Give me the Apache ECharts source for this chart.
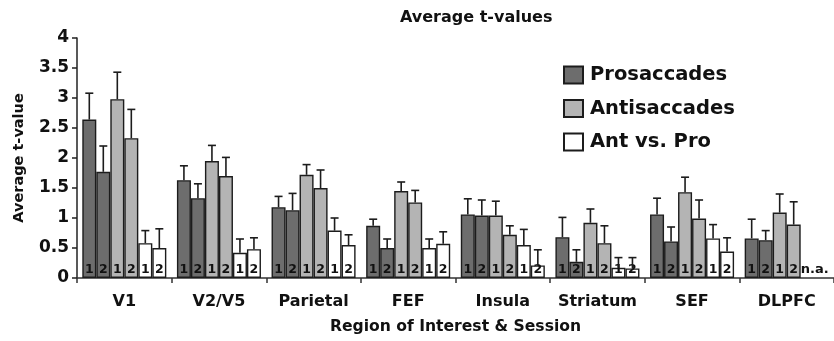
<!DOCTYPE html>
<html>
<head>
<meta charset="utf-8">
<script src="https://cdn.jsdelivr.net/npm/echarts@6/dist/echarts.min.js"></script>
<style>
  html, body { margin: 0; padding: 0; background: #fff; }
  #chart { width: 834px; height: 341px; }
</style>
</head>
<body>
<div id="chart"></div>
<script>
// Regions of interest along the x axis
const regions = ['V1', 'V2/V5', 'Parietal', 'FEF', 'Insula', 'Striatum', 'SEF', 'DLPFC'];

// Mean t-values per session (1, 2); null = not available
const proS1 = [2.64, 1.63, 1.18, 0.87, 1.06, 0.68, 1.06, 0.66];
const proS2 = [1.77, 1.33, 1.13, 0.50, 1.04, 0.27, 0.61, 0.63];
const antiS1 = [2.98, 1.95, 1.72, 1.45, 1.04, 0.92, 1.43, 1.09];
const antiS2 = [2.33, 1.70, 1.50, 1.26, 0.72, 0.58, 0.99, 0.89];
const avpS1 = [0.58, 0.42, 0.79, 0.50, 0.55, 0.17, 0.66, null];
const avpS2 = [0.50, 0.48, 0.55, 0.57, 0.21, 0.16, 0.44, null];

// Upper end of each error bar (mean + error)
const proS1Err = [3.08, 1.87, 1.36, 0.98, 1.32, 1.01, 1.33, 0.98];
const proS2Err = [2.20, 1.57, 1.41, 0.65, 1.30, 0.47, 0.85, 0.79];
const antiS1Err = [3.43, 2.21, 1.89, 1.60, 1.28, 1.15, 1.68, 1.40];
const antiS2Err = [2.81, 2.01, 1.80, 1.46, 0.87, 0.87, 1.30, 1.27];
const avpS1Err = [0.79, 0.65, 1.00, 0.65, 0.81, 0.34, 0.89, null];
const avpS2Err = [0.82, 0.67, 0.72, 0.77, 0.47, 0.34, 0.67, null];

const yTicks = { min: 0, max: 4, step: 0.5 };
const sessions = ['1', '2'];

const groups = [
  { name: 'Prosaccades', color: '#6d6d6d', values: [proS1, proS2], errs: [proS1Err, proS2Err] },
  { name: 'Antisaccades', color: '#b4b4b4', values: [antiS1, antiS2], errs: [antiS1Err, antiS2Err] },
  { name: 'Ant vs. Pro', color: '#ffffff', values: [avpS1, avpS2], errs: [avpS1Err, avpS2Err] }
];

const BAR_FRAC = 0.148;          // bar width as a share of the category band
const SLOTS = 6;
const FONT = '"DejaVu Sans", Verdana, sans-serif';

const series = [];
const errData = [];
let slot = 0;
groups.forEach(g => {
  g.values.forEach((vals, si) => {
    const s = slot;
    series.push({
      name: g.name,
      type: 'bar',
      barWidth: (BAR_FRAC * 100) + '%',
      barGap: '0%',
      data: vals.map(v => (v === null ? '-' : v)),
      itemStyle: { color: g.color, borderColor: '#1c1c1c', borderWidth: 1.4 },
      label: {
        show: true,
        position: 'insideBottom',
        distance: 2,
        formatter: sessions[si],
        color: '#111',
        fontFamily: FONT,
        fontWeight: 'bold',
        fontSize: 12.5
      },
      emphasis: { disabled: true },
      z: 2
    });
    vals.forEach((v, ci) => {
      errData.push([ci, s, v === null ? '-' : v, g.errs[si][ci] === null ? '-' : g.errs[si][ci]]);
    });
    slot++;
  });
});

// Error bars (upper whisker with cap) plus an "n.a." note where data are missing
series.push({
  type: 'custom',
  name: 'errors',
  data: errData,
  encode: { x: 0, y: [2, 3] },
  z: 3,
  silent: true,
  renderItem: function (params, api) {
    const ci = api.value(0);
    const s = api.value(1);
    const v = api.value(2);
    const e = api.value(3);
    const band = api.size([1, 0])[0];
    const barW = band * BAR_FRAC;
    const base = api.coord([ci, 0]);
    const cx = base[0] + (s - (SLOTS - 1) / 2) * barW;
    if (isNaN(v)) {
      if (s % 2 === 1) return null;
      return {
        type: 'text',
        style: {
          text: 'n.a.',
          x: cx + barW / 2,
          y: base[1] - 2,
          align: 'center',
          verticalAlign: 'bottom',
          fill: '#111',
          font: 'bold 13px ' + FONT
        }
      };
    }
    const yTop = api.coord([ci, v])[1];
    const yErr = api.coord([ci, e])[1];
    const cap = 4;
    const st = { stroke: '#1c1c1c', lineWidth: 1.6 };
    return {
      type: 'group',
      children: [
        { type: 'line', shape: { x1: cx, y1: yTop, x2: cx, y2: yErr }, style: st },
        { type: 'line', shape: { x1: cx - cap, y1: yErr, x2: cx + cap, y2: yErr }, style: st }
      ]
    };
  }
});

const chart = echarts.init(document.getElementById('chart'), null, { renderer: 'canvas' });
chart.setOption({
  animation: false,
  backgroundColor: '#ffffff',
  title: {
    text: 'Average t-values',
    left: 400,
    top: 10,
    padding: 0,
    textStyle: { fontFamily: FONT, fontWeight: 'bold', fontSize: 16, color: '#111' }
  },
  legend: {
    data: groups.map(g => g.name),
    orient: 'vertical',
    left: 563,
    top: 65,
    padding: 0,
    itemWidth: 19,
    itemHeight: 17,
    itemGap: 13.5,
    icon: 'rect',
    selectedMode: false,
    textStyle: { fontFamily: FONT, fontWeight: 'bold', fontSize: 19.5, color: '#111', padding: [0, 0, 0, 2] }
  },
  grid: { left: 77, top: 38, width: 760, height: 240, containLabel: false },
  xAxis: {
    type: 'category',
    data: regions,
    name: 'Region of Interest & Session',
    nameLocation: 'middle',
    nameGap: 41,
    nameTextStyle: { fontFamily: FONT, fontWeight: 'bold', fontSize: 15.6, color: '#111' },
    axisLine: { lineStyle: { color: '#333', width: 1.5 } },
    axisTick: { show: true, interval: 0, length: 5, lineStyle: { color: '#333', width: 1.5 } },
    axisLabel: { interval: 0, hideOverlap: false, fontFamily: FONT, fontWeight: 'bold', fontSize: 16, color: '#111', margin: 16 }
  },
  yAxis: {
    type: 'value',
    min: yTicks.min,
    max: yTicks.max,
    interval: yTicks.step,
    name: 'Average t-value',
    nameLocation: 'middle',
    nameRotate: 90,
    nameGap: 50,
    nameTextStyle: { fontFamily: FONT, fontWeight: 'bold', fontSize: 14.5, color: '#111' },
    axisLine: { show: true, lineStyle: { color: '#222', width: 1.5 } },
    axisTick: { show: true, length: 5, lineStyle: { color: '#222', width: 1.5 } },
    axisLabel: { fontFamily: FONT, fontWeight: 'bold', fontSize: 17, color: '#111', margin: 8 },
    splitLine: { show: false }
  },
  series: series
});
</script>
</body>
</html>
